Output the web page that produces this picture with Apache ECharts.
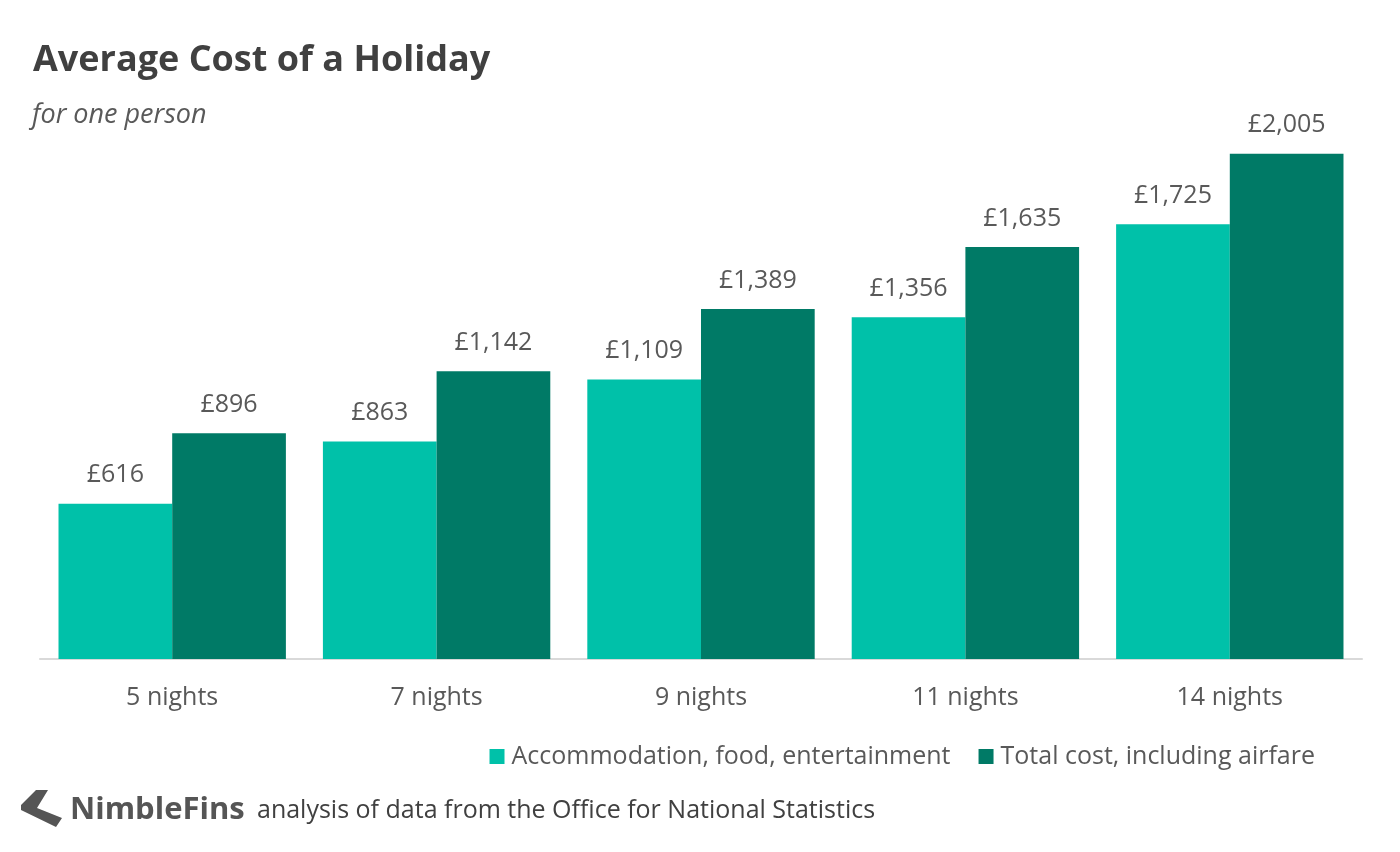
<!DOCTYPE html>
<html>
<head>
<meta charset="utf-8">
<script src="https://cdn.jsdelivr.net/npm/echarts@6/dist/echarts.min.js"></script>
<style>
html, body { margin: 0; padding: 0; background: #fff; }
#chart { width: 1400px; height: 852px; }
</style>
</head>
<body>
<div id="chart"></div>
<script>
// data
const nights = ['5 nights', '7 nights', '9 nights', '11 nights', '14 nights'];
const localCost = [616, 863, 1109, 1356, 1725];
const totalCost = [896, 1142, 1389, 1635, 2005];
const seriesNames = ['Accommodation, food, entertainment', 'Total cost, including airfare'];

const font = '"Open Sans", "Noto Sans", sans-serif';
const grey = '#595959';

let $chart = echarts.init(document.getElementById('chart'));

const pound = (p) => '£' + p.value.toLocaleString('en-GB');

const labelStyle = {
	show: true,
	position: 'top',
	distance: 16,
	formatter: pound,
	color: grey,
	fontFamily: font,
	fontSize: 25
};

$chart.setOption({
	backgroundColor: '#fff',
	animation: false,
	title: [
		{
			text: 'Average Cost of a Holiday',
			left: 28, top: 38,
			textStyle: { fontFamily: font, fontSize: 36, fontWeight: 'bold', color: '#404040' }
		},
		{
			text: 'for one person',
			left: 27, top: 97,
			textStyle: { fontFamily: font, fontSize: 27, fontStyle: 'italic', fontWeight: 'normal', color: grey }
		}
	],
	legend: {
		right: 80, top: 739,
		itemWidth: 15, itemHeight: 15, itemGap: 28,
		icon: 'rect',
		textStyle: { fontFamily: font, fontSize: 25, color: grey, padding: [0, 0, 0, 2] },
		data: seriesNames
	},
	grid: { left: 40, right: 38, top: 29, bottom: 193, containLabel: false },
	xAxis: {
		type: 'category',
		data: nights,
		axisLine: { lineStyle: { color: '#d9d9d9', width: 2 } },
		axisTick: { show: false },
		axisLabel: { color: grey, fontFamily: font, fontSize: 25, margin: 26 }
	},
	yAxis: {
		type: 'value',
		min: 0, max: 2500,
		show: false,
		splitLine: { show: false }
	},
	series: [
		{
			name: seriesNames[0],
			type: 'bar',
			data: localCost,
			barGap: '0%',
			barCategoryGap: '14%',
			itemStyle: { color: '#00c1a9' },
			label: labelStyle
		},
		{
			name: seriesNames[1],
			type: 'bar',
			data: totalCost,
			itemStyle: { color: '#007a66' },
			label: labelStyle
		}
	],
	graphic: [
		{
			type: 'polygon',
			shape: { points: [[36, 790], [48, 790], [37, 808], [62, 818], [56, 827], [21, 810], [21, 805]] },
			style: { fill: '#555' }
		},
		{
			type: 'text',
			left: 70, top: 795,
			style: { text: 'NimbleFins', font: 'bold 31px ' + font, fill: '#555' }
		},
		{
			type: 'text',
			left: 257, top: 798,
			style: { text: 'analysis of data from the Office for National Statistics', font: '25px ' + font, fill: '#404040' }
		}
	]
});
</script>
</body>
</html>
